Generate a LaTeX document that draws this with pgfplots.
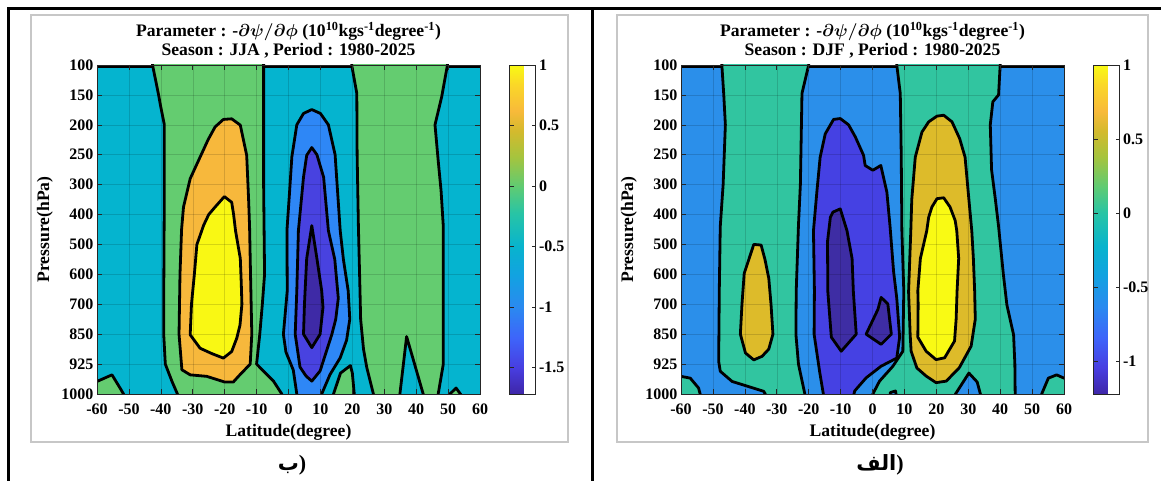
\documentclass[border=0pt]{standalone}
\usepackage{fontspec}
\setmainfont{Liberation Serif}
\newfontfamily\arabicfont[Script=Arabic]{DejaVu Sans}
\TeXXeTstate=1
\usepackage{pgfplots}
\pgfplotsset{compat=1.18}

\definecolor{cyanL}{RGB}{5,180,207}
\definecolor{greenL}{RGB}{100,204,112}
\definecolor{orangeL}{RGB}{247,184,60}
\definecolor{yellowL}{RGB}{249,248,20}
\definecolor{blueL}{RGB}{46,135,246}
\definecolor{purpleL}{RGB}{72,66,224}
\definecolor{dpurpleL}{RGB}{62,42,166}
\definecolor{blueR}{RGB}{43,143,234}
\definecolor{tealR}{RGB}{49,197,160}
\definecolor{mustardR}{RGB}{221,187,42}
\definecolor{yellowR}{RGB}{249,250,20}
\definecolor{purpleR}{RGB}{69,65,227}
\definecolor{dpurpleR}{RGB}{62,45,164}

\newcommand\tfont{\bfseries\boldmath\fontsize{17.6}{20}\selectfont}
\newcommand\kfont{\bfseries\fontsize{16}{18}\selectfont}

\pgfplotsset{
  colormap={parulaish}{
    rgb255(0cm)=(62,38,168) rgb255(8cm)=(72,62,225) rgb255(17cm)=(62,100,250)
    rgb255(26.5cm)=(42,138,240) rgb255(36cm)=(18,162,225) rgb255(45cm)=(8,180,205)
    rgb255(55cm)=(40,196,165) rgb255(63cm)=(95,203,115) rgb255(72cm)=(165,196,62)
    rgb255(80cm)=(212,186,45) rgb255(86cm)=(248,186,58) rgb255(94cm)=(250,215,40)
    rgb255(100cm)=(249,250,20)},
  matlab/.style={
    width=383pt, height=329pt, scale only axis,
    xmin=-60, xmax=60, ymin=0, ymax=11,
    y filter/.expression={11-y},
    xtick={-60,-50,...,60}, ytick={0,...,11},
    yticklabels={1000,925,850,700,600,500,400,300,250,200,150,100},
    tick align=inside, major tick length=5pt,
    grid=major, major grid style={black, opacity=0.14, line width=0.5pt},
    axis on top,
    axis line style={line width=0.8pt, black!85},
    every tick/.style={black!85, line width=0.6pt},
    ticklabel style={font=\kfont},
    /pgf/number format/assume math mode=true,
    xticklabel style={anchor=base, yshift=-21pt},
    xlabel={Latitude(degree)},
    xlabel style={font=\tfont, at={(axis description cs:0.5,0)}, anchor=base, yshift=-43pt},
    every axis plot/.append style={mark=none},
    colorbar, colormap name=parulaish,
    colorbar style={
      at={(parent axis.north east)}, anchor=north west, xshift=21pt,
      width=26pt, height=329pt, scale only axis,
      yticklabel style={font=\kfont, /pgf/number format/assume math mode=true},
      yticklabel pos=right,
      tick align=inside, major tick length=4pt,
      axis line style={line width=0.8pt, black!85},
      every tick/.style={black!85, line width=0.6pt},
    },
  },
}
\tikzset{ct/.style={draw=black, line width=2.8pt, line join=round}}

\begin{document}
\begin{tikzpicture}
\useasboundingbox (0,0) rectangle (1161pt,481pt);
\fill[white] (0,0) rectangle (1161pt,481pt);
% frames
\draw[line width=2.6pt] (7pt,472.5pt) -- (1161pt,472.5pt);
\draw[line width=2.6pt] (8.5pt,0pt) -- (8.5pt,473.8pt);
\draw[line width=2.6pt] (592.5pt,0pt) -- (592.5pt,473.8pt);
\draw[black!22, line width=1.6pt] (31pt,39pt) rectangle (568pt,466pt);
\draw[black!22, line width=1.6pt] (617pt,39pt) rectangle (1148pt,466pt);

% ---------------- Left panel (JJA) ----------------
\begin{axis}[matlab, name=L, at={(97pt,87pt)}, anchor=south west,
  axis background/.style={fill=cyanL},
  point meta min=-1.72, point meta max=1,
  colorbar style={ytick={-1.5,-1,-0.5,0,0.5,1}}]
% green regions
\addplot[ct, fill=greenL] coordinates {(-42.8,-1) (-42.6,0) (-40.7,1) (-40.2,1.3) (-38.9,2) (-38.9,4) (-39.0,6) (-39.1,8) (-39.1,9.0) (-38.6,10.0) (-36.5,10.58) (-34.8,11) (-34.6,12) (-2.4,12) (-2.1,11) (-4.7,10.57) (-10,10.0) (-9.6,9.6) (-9.0,9.0) (-8.2,8.0) (-7.5,7.0) (-7.6,6.0) (-7.8,4) (-7.8,1) (-7.8,0) (-7.8,-1)} -- cycle;
\addplot[ct, fill=greenL] coordinates {(-62,10.6) (-60,10.58) (-55.3,10.36) (-52.5,10.85) (-51.7,11) (-51.5,12) (-62,12)} -- cycle;
\addplot[ct, fill=greenL] coordinates {(19.8,-1) (19.8,0) (21.4,0.95) (21.5,3) (21.9,5.4) (22.4,7.55) (22.6,8.5) (23.5,9.5) (24.5,10.1) (26.6,11) (26.7,12) (34.8,12) (34.9,11) (36.0,10.0) (37.0,9.08) (39.5,10.0) (42.2,11) (42.3,12) (46.8,12) (46.9,11) (48.5,10.0) (48.5,7) (48.5,5.4) (47.8,4.2) (46.9,3.2) (45.9,2.0) (48.0,1.06) (49.8,0) (49.9,-1)} -- cycle;
\addplot[ct, fill=greenL] coordinates {(14.0,12) (14.1,11) (16.3,10.3) (19.4,10.05) (20.0,10.3) (20.6,11) (20.7,12)} -- cycle;
\addplot[ct, fill=greenL] coordinates {(50.0,12) (50.1,11.05) (52.5,10.8) (54.2,11.05) (54.3,12)} -- cycle;
% orange and yellow
\addplot[ct, fill=orangeL] coordinates {(-33.5,5.5) (-32.9,4.75) (-30.8,3.8) (-27.7,3.08) (-25.2,2.5) (-23,2.07) (-20.4,1.82) (-17.8,1.8) (-15.1,2.01) (-13.1,3.02) (-12.5,4.5) (-12.2,5.4) (-11.9,7.0) (-11.5,9.0) (-12.0,10.0) (-15.6,10.4) (-17.3,10.6) (-20,10.6) (-25.6,10.41) (-30.8,10.36) (-33.4,10.19) (-34.3,9.0) (-34.0,7.0)} -- cycle;
\addplot[ct, fill=yellowL] coordinates {(-20.1,4.4) (-17.8,4.59) (-17.2,5.0) (-16.6,5.54) (-15.1,6.47) (-14.8,7.3) (-14.6,8.0) (-15.2,8.7) (-16.2,9.13) (-17.8,9.58) (-20.4,9.8) (-24,9.65) (-27.7,9.47) (-30.8,9.02) (-30.4,8.0) (-29.5,7.0) (-28.7,6.0) (-27.7,5.7) (-26.6,5.36) (-25,5.0) (-23,4.75)} -- cycle;
% blue, purple, dark purple
\addplot[ct, fill=blueL] coordinates {(7.3,1.49) (4.7,1.62) (2.6,2.0) (1.05,3.07) (0.3,4.3) (-0.5,5.54) (-0.4,7.55) (-1.6,9.0) (-0.8,9.6) (1.5,10.2) (2.6,11) (2.7,12) (10.3,12) (10.4,11) (13.0,10.35) (16.2,9.79) (18.2,9.2) (19.2,8.5) (18.7,7.55) (17.2,6.5) (16.2,5.54) (14.6,3.0) (12.5,2.0) (10,1.62)} -- cycle;
\addplot[ct, fill=purpleL] coordinates {(7.3,2.76) (5.7,3.02) (4.7,3.75) (3.1,5.54) (2.6,7.55) (2.1,9.0) (3.6,10.1) (5.5,10.4) (7.3,10.57) (9.9,10.23) (13.6,9.0) (14.8,8.5) (15.6,7.8) (14.5,6.5) (12.5,5.54) (11.0,3.75) (8.9,3.0)} -- cycle;
\addplot[ct, fill=dpurpleL] coordinates {(7.3,5.37) (8.9,6.47) (10.4,7.55) (10.8,8.1) (9.9,9.0) (7.3,9.45) (4.7,9.0) (5.0,8.0) (5.2,7.55) (5.7,6.47)} -- cycle;
% top edge lines
\addplot[ct] coordinates {(-61,0.05) (-42.6,0.05)};
\addplot[ct] coordinates {(-7.8,0.05) (19.8,0.05)};
\addplot[ct] coordinates {(49.8,0.05) (61,0.05)};
\end{axis}
\node[font=\tfont, anchor=base, yshift=28pt] at (L.north) {Parameter : -$\partial\psi/\partial\phi$ (10\textsuperscript{10}kgs\textsuperscript{-1}degree\textsuperscript{-1})};
\node[font=\tfont, anchor=base, yshift=9pt] at (L.north) {Season : JJA , Period : 1980-2025};
\path (L.west) ++(-52pt,0) node[rotate=90, font=\tfont] {Pressure(hPa)};

% ---------------- Right panel (DJF) ----------------
\begin{axis}[matlab, name=R, at={(681pt,87pt)}, anchor=south west,
  axis background/.style={fill=blueR},
  point meta min=-1.22, point meta max=1,
  colorbar style={ytick={-1,-0.5,0,0.5,1}}]
\addplot[ct, fill=tealR] coordinates {(-47.2,-1) (-47.2,0) (-46.6,1) (-46.1,2.0) (-46.8,4) (-47.7,5.4) (-48.0,7.5) (-48.2,9.91) (-47.7,10.24) (-44.0,10.58) (-40.4,10.7) (-34.1,10.91) (-33.6,11) (-33.5,12) (-21.1,12) (-21.2,11) (-23.2,10.0) (-24.0,9.0) (-23.9,7.55) (-23.2,5.36) (-22.6,4) (-22.1,0.95) (-20,0) (-19.9,-1)} -- cycle;
\addplot[ct, fill=tealR] coordinates {(-62,10.41) (-60,10.41) (-57.1,10.47) (-54.5,10.8) (-54,11) (-53.9,12) (-62,12)} -- cycle;
\addplot[ct, fill=tealR] coordinates {(7.6,-1) (7.6,0) (8.7,0.95) (9.0,3) (9.2,5.54) (9.8,7.55) (9.5,9.57) (6.4,10.07) (2.2,10.57) (0.1,11) (0.0,12) (25.9,12) (26.0,11) (30.2,10.3) (32.8,10.6) (33.8,11) (33.9,12) (44.7,12) (44.7,11) (44.6,10) (44.2,9.02) (42.1,8.02) (41.0,7.0) (39.5,5.4) (38.5,4.5) (37.3,3.5) (36.9,2.0) (37.7,1.23) (39.5,1.0) (40,0) (40,-1)} -- cycle;
\addplot[ct, fill=tealR] coordinates {(53.0,12) (53.0,11) (55.1,10.47) (57.7,10.36) (60,10.47) (62,10.47) (62,12)} -- cycle;
\addplot[ct, fill=blueR] coordinates {(5.4,11.3) (5.6,10.95) (7.2,10.9) (7.9,11.3)} -- cycle;
\addplot[ct, fill=mustardR] coordinates {(-37.2,6.0) (-34.9,6.02) (-33.7,6.5) (-32.5,7.13) (-31.8,8.0) (-31.2,9.0) (-32.5,9.5) (-34.6,9.74) (-37.2,9.86) (-39.8,9.63) (-41.4,9.0) (-40.9,8.0) (-40.2,6.97)} -- cycle;
\addplot[ct, fill=mustardR] coordinates {(20.2,1.71) (22.3,1.68) (24.9,1.9) (27.3,2.46) (29.0,3.08) (30.2,4.5) (31.1,5.54) (31.6,6.47) (32.0,7.55) (32.2,8.5) (30.9,9.4) (27.2,10.12) (23.1,10.57) (19.9,10.62) (16.8,10.4) (13.9,10.13) (12.1,9.57) (11.8,9.02) (11.3,7.58) (12.0,5.54) (12.3,4.5) (13.4,3.08) (15.5,2.24) (17.6,1.9)} -- cycle;
\addplot[ct, fill=yellowR] coordinates {(20.2,4.47) (22.3,4.44) (24.3,4.75) (25.9,5.2) (26.4,5.54) (27.0,6.47) (26.5,7.55) (26.2,8.5) (25.7,9.23) (22.6,9.79) (19.9,9.85) (16.8,9.57) (14.2,9.1) (14.3,8.0) (14.2,7.55) (15.0,6.47) (17.0,5.54) (17.6,5.09) (18.6,4.75)} -- cycle;
\addplot[ct, fill=purpleR] coordinates {(-12.2,1.82) (-10.1,1.79) (-7.5,2.0) (-5.4,2.4) (-2.8,3.02) (-2.3,3.36) (0.1,3.52) (2.6,3.36) (4.5,4.25) (5.5,5.4) (6.6,6.9) (7.6,7.8) (8.5,9.1) (7.6,9.8) (2.7,10.07) (-2.0,10.46) (-5.6,10.9) (-5.8,11) (-5.9,12) (-15.3,12) (-15.4,11) (-16.5,10.3) (-18.3,9.0) (-18.2,7.55) (-18.5,5.54) (-17.4,4.2) (-16.4,3.08) (-14.8,2.3)} -- cycle;
\addplot[ct, fill=dpurpleR] coordinates {(-12.4,4.92) (-10.1,4.81) (-8.0,5.54) (-6.4,6.47) (-6.0,7.58) (-5.1,9.0) (-9.8,9.57) (-12.9,9.1) (-14.0,7.58) (-14.1,5.9) (-13.2,5.09)} -- cycle;
\addplot[ct, fill=dpurpleR] coordinates {(-2.0,9.0) (1.7,8.17) (2.7,7.77) (4.8,7.99) (5.9,9.0) (2.7,9.34)} -- cycle;
\addplot[ct] coordinates {(-61,0.05) (-47.2,0.05)};
\addplot[ct] coordinates {(-20,0.05) (7.6,0.05)};
\addplot[ct] coordinates {(40,0.05) (61,0.05)};
\end{axis}
\node[font=\tfont, anchor=base, yshift=28pt] at (R.north) {Parameter : -$\partial\psi/\partial\phi$ (10\textsuperscript{10}kgs\textsuperscript{-1}degree\textsuperscript{-1})};
\node[font=\tfont, anchor=base, yshift=9pt] at (R.north) {Season : DJF , Period : 1980-2025};
\path (R.west) ++(-52pt,0) node[rotate=90, font=\tfont] {Pressure(hPa)};

% panel labels: Arabic-script letters, closing parenthesis on the right in the Latin font
\node[inner sep=0pt] at (292pt,16pt) {{\arabicfont\bfseries\fontsize{21}{24}\selectfont\beginR ب\endR}{\bfseries\fontsize{22}{24}\selectfont)}};
\node[inner sep=0pt] at (880pt,16pt) {{\arabicfont\bfseries\fontsize{21}{24}\selectfont\beginR الف\endR}{\bfseries\fontsize{22}{24}\selectfont)}};
\end{tikzpicture}
\end{document}
